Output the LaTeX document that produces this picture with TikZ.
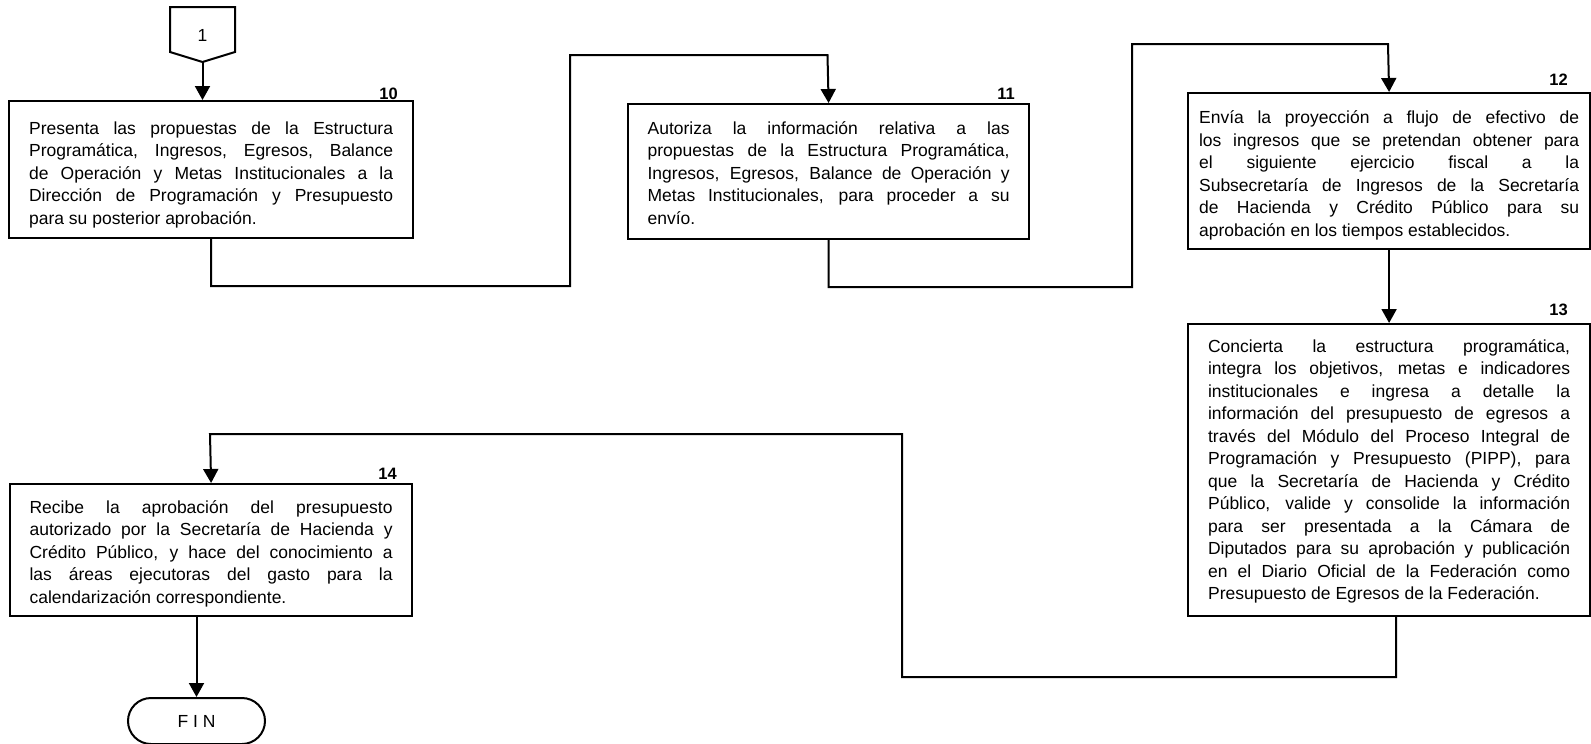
\documentclass[tikz,border=0pt]{standalone}
\usepackage{fontspec}
\setmainfont{Liberation Sans}
\usetikzlibrary{arrows.meta}

% one justified line of a step description, and the ragged last line
\newcommand\jline[1]{\hbox to\hsize{\spaceskip=0pt\xspaceskip=0pt\strut#1}}
\newcommand\eline[1]{\hbox to\hsize{\spaceskip=0pt\xspaceskip=0pt\strut#1\hfil}}
\newcommand\toppad[1]{\vskip#1\relax}

\tikzset{
  stepbox/.style={draw=black, line width=2.2pt, anchor=north west,
    inner ysep=0pt,
    font=\fontsize{17.5}{22.5}\selectfont},
  stepnum/.style={font=\bfseries\fontsize{16.5}{18}\selectfont,
    anchor=base east, inner sep=0pt},
  flow/.style={line width=2pt, draw=black},
  arr/.style={flow, -{Triangle[width=15pt,length=14pt]}},
  endbox/.style={draw=black, line width=2pt, rounded corners=23pt,
    minimum width=137pt, minimum height=46pt,
    font=\fontsize{17.5}{20}\selectfont},
}

\begin{document}
\begin{tikzpicture}[x=1pt,y=-1pt]
\useasboundingbox (0,0) rectangle (1591,744);

% off-page connector
\draw[line width=2pt] (170,7) -- (235,7) -- (235,52) -- (202.5,62) -- (170,52) -- cycle;
\node[font=\fontsize{17.5}{20}\selectfont, inner sep=0pt] (off1) at (202.5,35) {1};
\coordinate (off1tip) at (202.5,62);

% step 10
\node[stepbox, text width=364pt, inner xsep=20pt, minimum width=404pt,
      minimum height=137pt] (b10) at (8,100) {\toppad{4pt}%
\jline{Presenta las propuestas de la Estructura}
\jline{Programática, Ingresos, Egresos, Balance}
\jline{de Operación y Metas Institucionales a la}
\jline{Dirección de Programación y Presupuesto}
\eline{para su posterior aprobación.}};
\node[stepnum] (n10) at (398,99) {10};

% step 11
\node[stepbox, text width=362pt, inner xsep=19.5pt, minimum width=401pt,
      minimum height=135pt] (b11) at (627,103) {\toppad{0pt}%
\jline{Autoriza la información relativa a las}
\jline{propuestas de la Estructura Programática,}
\jline{Ingresos, Egresos, Balance de Operación y}
\jline{Metas Institucionales, para proceder a su}
\eline{envío.}};
\node[stepnum] (n11) at (1015,99) {11};

% step 12
\node[stepbox, text width=380pt, inner xsep=11pt, minimum width=402pt,
      minimum height=156pt] (b12) at (1187,92) {\toppad{2pt}%
\jline{Envía la proyección a flujo de efectivo de}
\jline{los ingresos que se pretendan obtener para}
\jline{el siguiente ejercicio fiscal a la}
\jline{Subsecretaría de Ingresos de la Secretaría}
\jline{de Hacienda y Crédito Público para su}
\eline{aprobación en los tiempos establecidos.}};
\node[stepnum] (n12) at (1568,85) {12};

% step 13
\node[stepbox, text width=362pt, inner xsep=20pt, minimum width=402pt,
      minimum height=292pt] (b13) at (1187,323) {\toppad{-4pt}%
\jline{Concierta la estructura programática,}
\jline{integra los objetivos, metas e indicadores}
\jline{institucionales e ingresa a detalle la}
\jline{información del presupuesto de egresos a}
\jline{través del Módulo del Proceso Integral de}
\jline{Programación y Presupuesto (PIPP), para}
\jline{que la Secretaría de Hacienda y Crédito}
\jline{Público, valide y consolide la información}
\jline{para ser presentada a la Cámara de}
\jline{Diputados para su aprobación y publicación}
\jline{en el Diario Oficial de la Federación como}
\eline{Presupuesto de Egresos de la Federación.}};
\node[stepnum] (n13) at (1568,315) {13};

% step 14
\node[stepbox, text width=363pt, inner xsep=19.5pt, minimum width=402pt,
      minimum height=132pt] (b14) at (9,483) {\toppad{1pt}%
\jline{Recibe la aprobación del presupuesto}
\jline{autorizado por la Secretaría de Hacienda y}
\jline{Crédito Público, y hace del conocimiento a}
\jline{las áreas ejecutoras del gasto para la}
\eline{calendarización correspondiente.}};
\node[stepnum] (n14) at (397,479) {14};

% terminator
\node[endbox] (fin) at (196.5,721) {F I N};

% connectors
\draw[arr] (off1tip) -- (off1tip |- b10.north);
\draw[arr] (b10.south) |- (570,286) |- (827.5,55) -- (b11.north);
\draw[arr] (b11.south) |- (1132,287) |- (1388,44) -- (b12.north);
\draw[arr] (b12.south) -- (b13.north);
\draw[arr] ([xshift=7pt]b13.south) |- (902,677) |- (210,434) -- (b14.north);
\draw[arr] (b14.south -| fin.north) -- (fin.north);
\end{tikzpicture}
\end{document}
